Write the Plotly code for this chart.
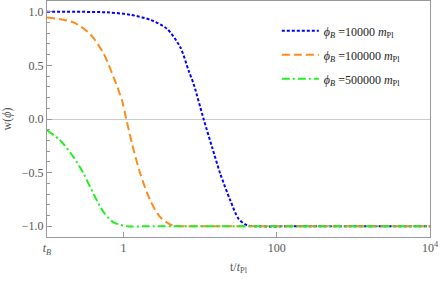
import plotly.graph_objects as go

# Data (t in units of t_Pl, w dimensionless)
t_blue = [0.1, 0.607, 1.22, 2.23, 3.69, 5.5, 7.06, 8.2, 11.07, 14.26, 18.28, 24.7, 31.7, 40.7, 63.0, 200.0, 10000.0]
w_blue = [1.0, 0.994, 0.972, 0.925, 0.84, 0.668, 0.451, 0.327, 0.0, -0.26, -0.51, -0.758, -0.93, -0.99, -1.0, -1.0, -1.0]

t_orange = [0.1, 0.222, 0.367, 0.55, 0.741, 0.953, 1.084, 1.288, 1.652, 2.23, 3.01, 4.29, 7.08, 20.0, 10000.0]
w_orange = [0.947, 0.90, 0.79, 0.607, 0.389, 0.172, 0.0, -0.23, -0.51, -0.76, -0.915, -0.99, -1.0, -1.0, -1.0]

t_green = [0.1, 0.149, 0.222, 0.301, 0.406, 0.55, 0.741, 1.107, 2.0, 10.0, 10000.0]
w_green = [-0.105, -0.2, -0.355, -0.51, -0.70, -0.87, -0.963, -1.0, -1.0, -1.0, -1.0]

labels = ["<i>ϕ</i><sub><i>B</i></sub> =10000 <i>m</i><sub>Pl</sub>",
          "<i>ϕ</i><sub><i>B</i></sub> =100000 <i>m</i><sub>Pl</sub>",
          "<i>ϕ</i><sub><i>B</i></sub> =500000 <i>m</i><sub>Pl</sub>"]

x_tickvals = [0.1, 1, 100, 10000]
x_ticktext = ["<i>t</i><sub><i>B</i></sub>", "1", "100", "10<sup>4</sup>"]
y_tickvals = [1.0, 0.5, 0.0, -0.5, -1.0]
y_ticktext = ["1.0", "0.5", "0.0", "−0.5", "−1.0"]

FONT = "Liberation Serif"
fig = go.Figure()
fig.add_trace(go.Scatter(x=t_blue, y=w_blue, mode="lines", name=labels[0], legendgroup="a",
                         line=dict(color="#0000FF", width=2, dash="3px,2px", shape="spline", smoothing=0.8)))
fig.add_trace(go.Scatter(x=t_orange, y=w_orange, mode="lines", name=labels[1], legendgroup="b",
                         line=dict(color="#FF8C1A", width=2, dash="8px,4px", shape="spline", smoothing=0.8)))
fig.add_trace(go.Scatter(x=t_green, y=w_green, mode="lines", name=labels[2], legendgroup="c",
                         line=dict(color="#22EE22", width=2, dash="8px,3px,2px,3px", shape="spline", smoothing=0.8)))

fig.update_layout(
    width=442, height=283,
    margin=dict(l=47, r=12, t=1, b=46, autoexpand=False),
    paper_bgcolor="white", plot_bgcolor="white",
    font=dict(family=FONT, size=12, color="#555555"),
    showlegend=True,
    legend=dict(x=0.6, y=0.935, xanchor="left", yanchor="top", bgcolor="rgba(0,0,0,0)",
                font=dict(family=FONT, size=12, color="#222222"), tracegroupgap=5, itemwidth=37),
)
fig.update_xaxes(type="log", range=[-1, 4], tickvals=x_tickvals, ticktext=x_ticktext,
                 ticks="inside", ticklen=5, tickcolor="#999999", showgrid=False, zeroline=False,
                 showline=True, mirror=True, linecolor="#999999", linewidth=1,
                 automargin=False, ticklabeloverflow="allow",
                 title=dict(text="t/<i>t</i><sub>Pl</sub>", font=dict(family=FONT, size=12, color="#555555"), standoff=6))
fig.update_yaxes(range=[-1.1, 1.1], tickvals=y_tickvals, ticktext=y_ticktext,
                 ticks="inside", ticklen=5, tickcolor="#999999", showgrid=False,
                 zeroline=True, zerolinecolor="#cccccc", zerolinewidth=1,
                 minor=dict(dtick=0.1, ticks="inside", ticklen=3, tickcolor="#999999", showgrid=False),
                 showline=True, mirror=True, linecolor="#999999", linewidth=1,
                 automargin=False,
                 title=dict(text="w(<i>ϕ</i>)", font=dict(family=FONT, size=12, color="#555555"), standoff=8))

fig.write_html("out.html", config={"displayModeBar": False},
               post_script="document.body.style.margin='0px';document.body.style.overflow='hidden';")
